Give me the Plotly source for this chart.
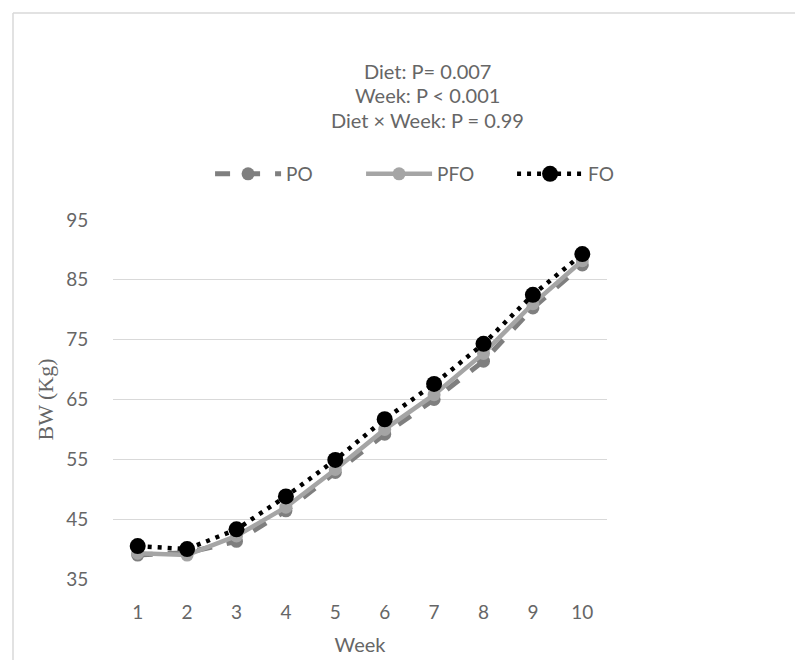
import plotly.graph_objects as go

# Weekly body weight (kg) by diet
weeks = [1, 2, 3, 4, 5, 6, 7, 8, 9, 10]
po = [39.0, 39.4, 41.3, 46.4, 52.8, 59.2, 65.0, 71.4, 80.3, 87.5]
pfo = [39.3, 39.0, 42.2, 47.0, 53.3, 60.0, 65.8, 72.7, 81.0, 88.2]
fo = [40.5, 40.0, 43.3, 48.8, 54.9, 61.7, 67.6, 74.3, 82.5, 89.3]

y_ticks = [35, 45, 55, 65, 75, 85, 95]
title_lines = ["Diet: P= 0.007", "Week: P < 0.001", "Diet × Week: P = 0.99"]

TEXT = "#666666"
FONT = "Lato"

fig = go.Figure()
fig.add_trace(go.Scatter(
    x=weeks, y=po, name="PO", mode="lines+markers",
    line=dict(color="#7f7f7f", width=5, dash="dash"),
    marker=dict(symbol="circle", size=13, color="#7f7f7f"),
))
fig.add_trace(go.Scatter(
    x=weeks, y=pfo, name="PFO", mode="lines+markers",
    line=dict(color="#a5a5a5", width=4.5),
    marker=dict(symbol="circle", size=13, color="#a5a5a5"),
))
fig.add_trace(go.Scatter(
    x=weeks, y=fo, name="FO", mode="lines+markers",
    line=dict(color="#000000", width=4.5, dash="4px,6px"),
    marker=dict(symbol="circle", size=16, color="#000000"),
))

# stacked statistics title
for i, t in enumerate(title_lines):
    fig.add_annotation(
        text=t, xref="paper", yref="paper",
        x=0.636, y=(579 - 71 - i * 24.5) / 359, xanchor="center", yanchor="middle",
        showarrow=False, font=dict(family=FONT, size=20, color=TEXT),
    )

fig.update_layout(
    width=795, height=660,
    margin=dict(l=113, r=188, t=220, b=81),
    paper_bgcolor="white", plot_bgcolor="white",
    font=dict(family=FONT, size=19, color=TEXT),
    showlegend=True,
    legend=dict(
        orientation="h", x=0.655, xanchor="center", y=(579 - 174) / 359, yanchor="middle",
        font=dict(family=FONT, size=19, color=TEXT),
        itemwidth=66, entrywidth=70, traceorder="normal",
    ),
    xaxis=dict(
        range=[0.5, 10.5], tickmode="array", tickvals=weeks,
        ticktext=[str(w) for w in weeks],
        showgrid=False, zeroline=False, showline=False, automargin=False,
        ticks="outside", ticklen=16, tickcolor="rgba(0,0,0,0)",
        tickfont=dict(family=FONT, size=19, color=TEXT),
        title=dict(text="Week", font=dict(family=FONT, size=20, color=TEXT), standoff=16),
    ),
    yaxis=dict(
        range=[35, 95], tickmode="array", tickvals=y_ticks,
        showgrid=True, gridcolor="#d9d9d9", gridwidth=1.3,
        zeroline=False, showline=False, automargin=False,
        ticks="outside", ticklen=20, tickcolor="rgba(0,0,0,0)",
        tickfont=dict(family=FONT, size=19, color=TEXT),
        title=dict(text="BW (Kg)", font=dict(family="Liberation Serif", size=22, color=TEXT), standoff=6),
    ),
)

# outer chart frame (left and top edges)
fig.add_shape(type="line", xref="paper", yref="paper",
              x0=-100 / 494, x1=1.5, y0=(579 - 13) / 359, y1=(579 - 13) / 359,
              line=dict(color="#d9d9d9", width=1.5))
fig.add_shape(type="line", xref="paper", yref="paper",
              x0=-100 / 494, x1=-100 / 494, y0=(579 - 13) / 359, y1=-0.5,
              line=dict(color="#d9d9d9", width=1.5))

fig.write_html("out.html")
